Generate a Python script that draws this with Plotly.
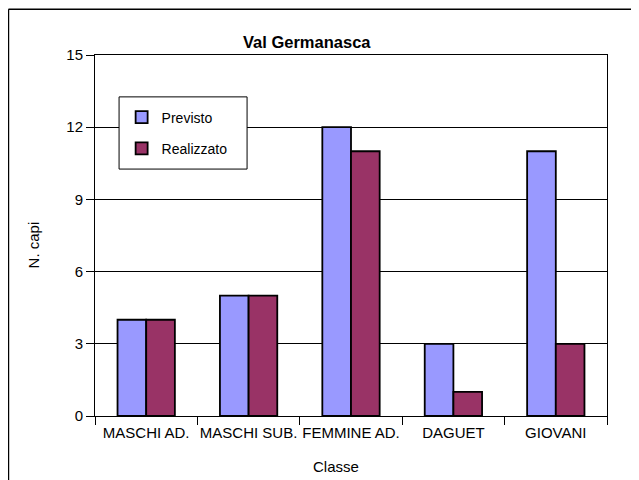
import plotly.graph_objects as go

categories = ["MASCHI AD.", "MASCHI SUB.", "FEMMINE AD.", "DAGUET", "GIOVANI"]
previsto = [4, 5, 12, 3, 11]
realizzato = [4, 5, 11, 1, 3]
y_ticks = [0, 3, 6, 9, 12, 15]

font = "Liberation Sans, Arial, sans-serif"

fig = go.Figure()
fig.add_trace(go.Bar(x=categories, y=previsto, name="Previsto", legendgroup="a",
                     marker=dict(color="#9999FF", line=dict(color="black", width=1.8))))
fig.add_trace(go.Bar(x=categories, y=realizzato, name="Realizzato", legendgroup="b",
                     marker=dict(color="#993366", line=dict(color="black", width=1.8))))

# the page body adds an 8px offset, so the figure is sized 8px smaller
fig.update_layout(
    width=631, height=472,
    margin=dict(l=87, r=32, t=47, b=64, autoexpand=False),
    paper_bgcolor="white", plot_bgcolor="white",
    font=dict(family=font, size=14, color="black"),
    barmode="group", bargap=0.44, bargroupgap=0,
    showlegend=True,
    legend=dict(x=0.052, y=0.871, xanchor="left", yanchor="top",
                bgcolor="rgba(0,0,0,0)", borderwidth=0,
                font=dict(size=14), traceorder="grouped", tracegroupgap=10),
    xaxis=dict(showline=True, linecolor="black", linewidth=1, ticks="outside",
               tickson="boundaries", ticklen=8, tickcolor="black", tickangle=0,
               ticklabelstandoff=3,
               automargin=False, tickfont=dict(size=15), mirror=True),
    yaxis=dict(range=[0, 15], tickvals=y_ticks, showline=True, linecolor="black",
               linewidth=1, mirror=True, ticks="outside", ticklen=8, tickcolor="black",
               showgrid=True, gridcolor="black", gridwidth=1, zeroline=False,
               automargin=False, tickfont=dict(size=15)),
    shapes=[
        # chart frame (top and left edges visible)
        dict(type="line", xref="paper", yref="paper", x0=-0.169, x1=1.1, y0=1.127, y1=1.127,
             line=dict(color="black", width=1.5)),
        dict(type="line", xref="paper", yref="paper", x0=-0.169, x1=-0.169, y0=1.127, y1=-0.2,
             line=dict(color="black", width=1.5)),
        # legend box
        dict(type="rect", xref="paper", yref="paper", x0=0.047, x1=0.297, y0=0.684, y1=0.884,
             fillcolor="white", line=dict(color="black", width=1), layer="above"),
    ],
    annotations=[
        dict(text="<b>Val Germanasca</b>", xref="paper", yref="paper", x=0.415, y=1.036,
             xanchor="center", yanchor="middle", showarrow=False, font=dict(size=16.5)),
        dict(text="N. capi", xref="paper", yref="paper", x=-0.12, y=0.474, textangle=-90,
             xanchor="center", yanchor="middle", showarrow=False, font=dict(size=15)),
        dict(text="Classe", xref="paper", yref="paper", x=0.47, y=-0.14,
             xanchor="center", yanchor="middle", showarrow=False, font=dict(size=15)),
    ],
)

fig.write_html("out.html")
